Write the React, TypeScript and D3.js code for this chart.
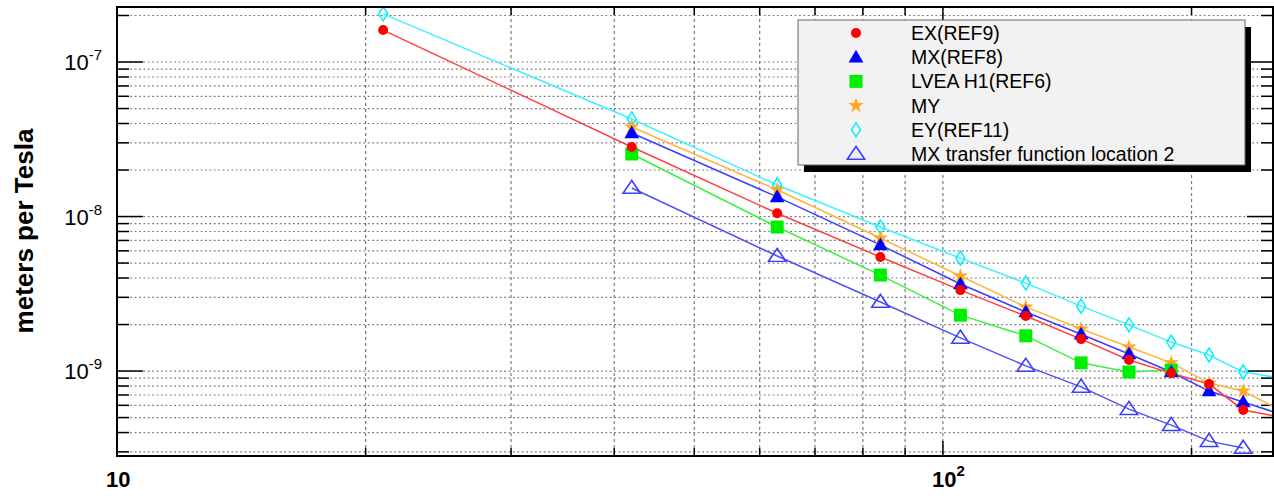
import * as d3 from "d3";

const freqs = [21, 42, 63, 84, 105, 126, 147, 168, 189, 210, 231, 252];

const exRef9 = [1.61e-7, 2.82e-8, 1.05e-8, 5.47e-9, 3.34e-9, 2.27e-9, 1.61e-9, 1.18e-9, 9.7e-10, 8.24e-10, 5.6e-10, 5.12e-10];
const mxRef8 = [null, 3.47e-8, 1.34e-8, 6.55e-9, 3.66e-9, 2.41e-9, 1.73e-9, 1.29e-9, 9.86e-10, 7.42e-10, 6.3e-10, 5.42e-10];
const lveaRef6 = [null, 2.54e-8, 8.55e-9, 4.18e-9, 2.3e-9, 1.69e-9, 1.13e-9, 9.86e-10, 1.015e-9, null, null, null];
const myVals = [null, 3.8e-8, 1.49e-8, 7.26e-9, 4.12e-9, 2.6e-9, 1.87e-9, 1.43e-9, 1.13e-9, 8.36e-10, 7.42e-10, 5.85e-10];
const eyRef11 = [2.05e-7, 4.28e-8, 1.6e-8, 8.55e-9, 5.38e-9, 3.71e-9, 2.63e-9, 1.99e-9, 1.54e-9, 1.27e-9, 9.86e-10, 9.15e-10];
const mxTf2 = [null, 1.53e-8, 5.55e-9, 2.8e-9, 1.64e-9, 1.08e-9, 7.9e-10, 5.67e-10, 4.47e-10, 3.52e-10, 3.18e-10, null];

const legendLabels = [
  "EX(REF9)",
  "MX(REF8)",
  "LVEA H1(REF6)",
  "MY",
  "EY(REF11)",
  "MX transfer function location 2",
];

const W = 1274;
const H = 496;
const frame = { left: 117, right: 1273, top: 7, bottom: 456 };
const font = "'Liberation Sans', Arial, Helvetica, sans-serif";

const x = d3.scaleLog().domain([10, 251]).range([frame.left, frame.right]);
const y = d3.scaleLog().domain([2.82e-10, 2.27e-7]).range([frame.bottom, frame.top]);

type Kind = "circle" | "tri" | "square" | "star" | "diamond" | "otri";

const series: { name: string; values: (number | null)[]; color: string; line: string; kind: Kind }[] = [
  { name: legendLabels[5], values: mxTf2, color: "#3d3dff", line: "#5252f5", kind: "otri" },
  { name: legendLabels[4], values: eyRef11, color: "#00f0ff", line: "#3cf2ff", kind: "diamond" },
  { name: legendLabels[3], values: myVals, color: "#ffa820", line: "#ffb43c", kind: "star" },
  { name: legendLabels[2], values: lveaRef6, color: "#00ee00", line: "#3ef03e", kind: "square" },
  { name: legendLabels[1], values: mxRef8, color: "#0000ff", line: "#3c3cff", kind: "tri" },
  { name: legendLabels[0], values: exRef9, color: "#ff0000", line: "#ff4040", kind: "circle" },
];

const triPath = d3.symbol(d3.symbolTriangle, 95)()!;
const otriPath = d3.symbol(d3.symbolTriangle, 120)()!;
const starPath = d3.symbol(d3.symbolStar, 75)()!;

function Marker({ kind, color, cx, cy }: { kind: Kind; color: string; cx: number; cy: number }) {
  const t = `translate(${cx},${cy})`;
  if (kind === "circle") return <circle cx={cx} cy={cy} r={5} fill={color} />;
  if (kind === "tri") return <path d={triPath} transform={t + " translate(0,1)"} fill={color} />;
  if (kind === "otri")
    return <path d={otriPath} transform={t + " translate(0,1) scale(1.05,0.9)"} fill="none" stroke={color} strokeWidth={1.6} />;
  if (kind === "square") return <rect x={cx - 6.5} y={cy - 6.5} width={13} height={13} fill={color} />;
  if (kind === "star") return <path d={starPath} transform={t} fill={color} />;
  return (
    <path d="M0,-7L4.5,0L0,7L-4.5,0Z" transform={t} fill="none" stroke={color} strokeWidth={1.5} />
  );
}

export default function App() {
  const xTicks = x.ticks();
  const yTicks = y.ticks();
  const isMajor = (v: number) => Math.abs(Math.log10(v) - Math.round(Math.log10(v))) < 1e-6;

  const line = d3
    .line<[number, number | null]>()
    .defined((d) => d[1] != null)
    .x((d) => x(d[0]))
    .y((d) => y(d[1] as number));

  const yMajors = yTicks.filter(isMajor);
  const xMajors = xTicks.filter(isMajor);

  const legend = { x: 798, y: 20, w: 447, h: 145 };
  const legendOrder = [5, 4, 3, 2, 1, 0];

  return (
    <svg
      width={W}
      height={H}
      style={{ position: "absolute", left: 0, top: 0, background: "#fff" }}
      fontFamily={font}
    >
      <defs>
        <clipPath id="plotclip">
          <rect x={frame.left} y={frame.top} width={frame.right - frame.left} height={frame.bottom - frame.top} />
        </clipPath>
      </defs>

      {/* grid */}
      <g stroke="#7a7a7a" strokeWidth={1.2}>
        {yTicks.map((v, i) => (
          <line key={"gy" + i} x1={frame.left} x2={frame.right} y1={y(v)} y2={y(v)} strokeDasharray="1.8,2.6" />
        ))}
        {xTicks.map((v, i) => (
          <line key={"gx" + i} x1={x(v)} x2={x(v)} y1={frame.top} y2={frame.bottom} strokeDasharray="3,3" />
        ))}
      </g>

      {/* ticks */}
      <g stroke="#000" strokeWidth={1.5}>
        {yTicks.map((v, i) => {
          const len = isMajor(v) ? 26 : 12;
          return (
            <g key={"ty" + i}>
              <line x1={frame.left} x2={frame.left + len} y1={y(v)} y2={y(v)} />
              <line x1={frame.right} x2={frame.right - len} y1={y(v)} y2={y(v)} />
            </g>
          );
        })}
        {xTicks.map((v, i) => {
          const len = isMajor(v) ? 15 : 8;
          return (
            <g key={"tx" + i}>
              <line x1={x(v)} x2={x(v)} y1={frame.bottom} y2={frame.bottom - len} />
              <line x1={x(v)} x2={x(v)} y1={frame.top} y2={frame.top + len} />
            </g>
          );
        })}
      </g>

      {/* data */}
      <g clipPath="url(#plotclip)">
        {series.map((s) => (
          <path
            key={"l" + s.name}
            d={line(freqs.map((f, i) => [f, s.values[i]] as [number, number | null])) || ""}
            fill="none"
            stroke={s.line}
            strokeWidth={1.5}
          />
        ))}
        {series.map((s) =>
          freqs.map((f, i) =>
            s.values[i] != null && f <= x.domain()[1] ? (
              <Marker key={s.name + f} kind={s.kind} color={s.color} cx={x(f)} cy={y(s.values[i] as number)} />
            ) : null
          )
        )}
      </g>

      {/* frame */}
      <rect
        x={frame.left}
        y={frame.top}
        width={frame.right - frame.left}
        height={frame.bottom - frame.top}
        fill="none"
        stroke="#000"
        strokeWidth={2}
      />

      {/* y tick labels */}
      {yMajors.map((v, i) => (
        <text key={"ly" + i} x={102} y={y(v) + 8} textAnchor="end" fontSize={22} fill="#000">
          10
          <tspan fontSize={15} dy={-10}>
            {String(Math.round(Math.log10(v)))}
          </tspan>
        </text>
      ))}

      {/* x tick labels */}
      {xMajors.map((v, i) => {
        const e = Math.round(Math.log10(v));
        return (
          <text key={"lx" + i} x={x(v) - 11} y={487} fontSize={22} fontWeight="bold" fill="#000">
            10
            {e !== 1 ? (
              <tspan fontSize={15} dy={-11}>
                {String(e)}
              </tspan>
            ) : null}
          </text>
        );
      })}

      {/* y axis title */}
      <text
        transform={`translate(33,231) rotate(-90)`}
        textAnchor="middle"
        fontSize={26}
        fontWeight="bold"
        fill="#000"
      >
        meters per Tesla
      </text>

      {/* legend */}
      <rect x={legend.x + 6} y={legend.y + 7} width={legend.w} height={legend.h} fill="#000" />
      <rect x={legend.x} y={legend.y} width={legend.w} height={legend.h} fill="#f2f2f2" stroke="#666" strokeWidth={1} />
      {legendOrder.map((si, row) => {
        const s = series[si];
        const cy = 33 + row * 24.2;
        return (
          <g key={"lg" + row}>
            <Marker kind={s.kind} color={s.color} cx={856} cy={cy} />
            <text x={911} y={cy + 7} fontSize={19.5} fill="#000">
              {legendLabels[row]}
            </text>
          </g>
        );
      })}
    </svg>
  );
}
